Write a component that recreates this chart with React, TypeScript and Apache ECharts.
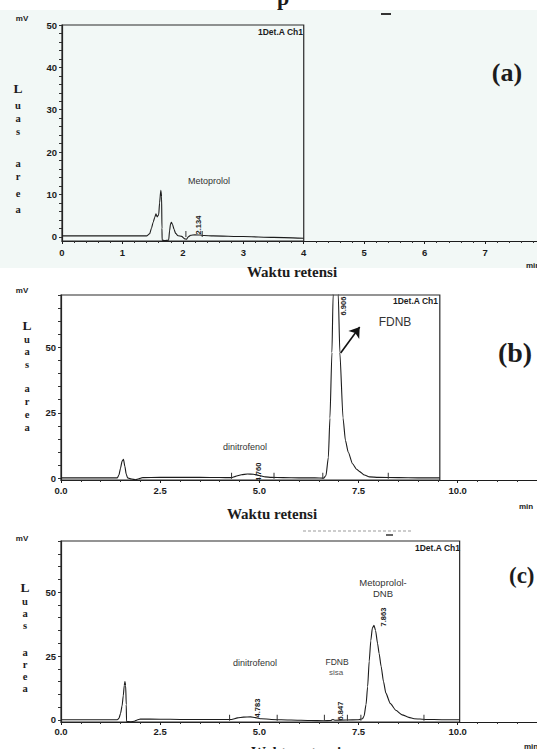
import React, { useEffect, useRef } from 'react';
import * as echarts from 'echarts';

// ---------- data (retention time [min], signal [mV]) ----------
const traceA: [number, number][] = [
  [0, 0.2], [0.5, 0.2], [1.0, 0.2], [1.4, 0.2], [1.45, 0.7], [1.48, 2.0], [1.51, 3.5], [1.535, 4.6],
  [1.555, 5.4], [1.575, 4.7], [1.6, 5.2], [1.615, 8.0], [1.635, 11.0], [1.648, 9.5], [1.654, 2.0],
  [1.657, -0.8], [1.7, -0.9], [1.765, -0.8], [1.78, 1.4], [1.795, 3.0], [1.81, 3.4], [1.83, 2.9],
  [1.855, 1.7], [1.88, 0.8], [1.92, 0.25], [1.98, 0.1], [2.03, -0.5], [2.06, -0.6], [2.09, 0.0],
  [2.13, 0.35], [2.2, 0.45], [2.28, 0.4], [2.35, 0.3], [2.5, 0.2], [3.0, 0.05], [3.5, -0.15], [4.0, -0.35],
];
const traceB: [number, number][] = [
  [0, 0.1], [0.5, 0.1], [1.0, 0.1], [1.42, 0.1], [1.46, 1.2], [1.5, 3.8], [1.54, 6.5], [1.575, 7.2],
  [1.61, 4.5], [1.645, 1.5], [1.68, 0.1], [1.78, -0.3], [1.88, -0.6], [1.96, -0.2], [2.05, 0.2],
  [2.5, 0.3], [3.0, 0.3], [3.5, 0.3], [4.0, 0.25], [4.3, 0.2], [4.4, 0.7], [4.55, 1.3], [4.7, 1.6],
  [4.85, 1.5], [5.0, 1.0], [5.15, 0.5], [5.3, 0.3], [5.6, 0.2], [6.0, 0.1], [6.4, 0.1], [6.62, 0.0],
  [6.68, 1.0], [6.74, 8.0], [6.78, 23], [6.83, 48], [6.86, 70], [6.92, 100], [6.99, 70], [7.03, 48],
  [7.11, 23], [7.17, 14.5], [7.24, 10], [7.35, 5.5], [7.45, 3.4], [7.53, 2.5], [7.65, 1.2], [7.78, 0.5],
  [8.0, 0.3], [8.5, 0.2], [9.0, 0.1], [9.55, 0.1],
];
const traceC: [number, number][] = [
  [0, 0.1], [0.5, 0.1], [1.0, 0.1], [1.42, 0.1], [1.46, 0.6], [1.5, 2.5], [1.54, 5.5], [1.57, 9.5],
  [1.595, 13.5], [1.612, 15.0], [1.63, 13.5], [1.645, 6.0], [1.652, -0.6], [1.75, -0.7], [1.85, -0.5],
  [1.92, 0.0], [2.0, 0.35], [2.5, 0.3], [3.0, 0.2], [3.5, 0.2], [4.0, 0.2], [4.3, 0.2], [4.45, 0.8],
  [4.6, 1.1], [4.78, 1.2], [4.9, 0.9], [5.05, 0.5], [5.3, 0.2], [5.8, 0.0], [6.3, -0.2], [6.62, -0.3],
  [6.8, -0.2], [6.85, 0.2], [6.9, -0.1], [7.2, 0.0], [7.5, 0.1], [7.6, 0.5], [7.64, 1.5], [7.69, 6],
  [7.73, 13], [7.77, 23], [7.81, 31], [7.85, 36], [7.89, 37], [7.93, 35], [7.98, 30], [8.02, 26],
  [8.07, 21], [8.13, 15], [8.19, 10.5], [8.3, 6.5], [8.44, 3.8], [8.6, 2.0], [8.77, 1.0], [8.9, 0.5],
  [9.2, 0.2], [9.6, 0.1], [10.05, 0.1],
];

const yTicksA = [0, 2, 4, 6, 8, 10, 12, 14, 16, 18, 20, 22, 24, 26, 28, 30, 32, 34, 36, 38, 40, 42, 44, 46, 48, 50];
const yLabelsA = [0, 10, 20, 30, 40, 50];
const yTicksBC = [0, 5, 10, 15, 20, 25, 30, 35, 40, 45, 50, 55, 60, 65, 70];
const yLabelsBC = [0, 25, 50];

const markersA = [2.05, 2.32];
const markersB = [4.3, 5.37, 6.6, 8.25];
const markersC = [4.25, 5.45, 6.64, 7.22, 7.56, 9.15];

const SANS = '"Liberation Sans", Arial, sans-serif';
const SERIF = '"Liberation Serif", "Times New Roman", serif';
const INK = '#1c1c1c';

function txt(x: number, y: number, text: string, opts: any = {}) {
  return {
    type: 'text',
    x,
    y,
    rotation: opts.rotation || 0,
    silent: true,
    style: {
      text,
      fill: opts.color || INK,
      font: `${opts.weight || 'normal'} ${opts.size || 9}px ${opts.family || SANS}`,
      align: opts.align || 'center',
      verticalAlign: 'middle',
    },
  };
}

function rt(x: number, y: number, text: string) {
  return txt(x, y, text, { rotation: Math.PI / 2, size: 7.5, weight: 'bold' });
}

function luasArea(x: number, ys: number[]) {
  const letters = ['L', 'u', 'a', 's', 'a', 'r', 'e', 'a'];
  return letters.map((ch, i) =>
    txt(x, ys[i], ch, { family: SERIF, weight: 'bold', size: i === 0 ? 13.5 : 10.5 })
  );
}

function xAxisBase(grid: number, max: number, interval: number, minorSplit: number, margin: number, fmt: (v: number) => string) {
  return {
    type: 'value',
    gridIndex: grid,
    min: 0,
    max,
    interval,
    axisLine: { show: true, onZero: false, lineStyle: { color: INK, width: 1.2 } },
    axisTick: { show: true, length: 3, lineStyle: { color: INK } },
    minorTick: { show: true, splitNumber: minorSplit, length: 2, lineStyle: { color: '#333' } },
    splitLine: { show: false },
    minorSplitLine: { show: false },
    axisLabel: {
      margin,
      color: INK,
      fontFamily: SANS,
      fontWeight: 'bold',
      fontSize: 9.5,
      formatter: fmt,
      showMaxLabel: false,
    },
  };
}

function yAxisBase(grid: number, min: number, max: number, ticks: number[], labels: number[]) {
  return {
    type: 'value',
    gridIndex: grid,
    min,
    max,
    axisLine: { show: true, onZero: false, lineStyle: { color: INK, width: 1.2 } },
    axisTick: { show: true, length: 3, customValues: ticks, lineStyle: { color: '#333' } },
    splitLine: { show: false },
    axisLabel: {
      margin: 5,
      color: INK,
      fontFamily: SANS,
      fontWeight: 'bold',
      fontSize: 9.5,
      customValues: labels,
    },
  };
}

function markers(xs: number[], y: number) {
  return {
    symbol: 'rect',
    symbolSize: [1, 6],
    symbolOffset: [0, -2],
    silent: true,
    label: { show: false },
    itemStyle: { color: '#333' },
    data: xs.map((x) => ({ coord: [x, y] })),
  };
}

function frame(x1: number, y1: number, y2: number) {
  return {
    silent: true,
    itemStyle: { color: 'rgba(0,0,0,0)', borderColor: '#2a2a2a', borderWidth: 1.2 },
    label: { show: false },
    data: [[{ coord: [0, y1] }, { coord: [x1, y2] }]],
  };
}

export default function App() {
  const ref = useRef<HTMLDivElement>(null);

  useEffect(() => {
    document.body.style.margin = '0';
    if (!ref.current) return;
    const chart = echarts.init(ref.current, undefined, { renderer: 'svg' });

    const intFmt = (v: number) => (Math.abs(v - Math.round(v)) < 1e-6 ? String(Math.round(v)) : '');
    const halfFmt = (v: number) => (Math.abs(v / 2.5 - Math.round(v / 2.5)) < 1e-6 ? v.toFixed(1) : '');

    const lineSeries = (data: [number, number][], idx: number, extra: any) => ({
      type: 'line',
      xAxisIndex: idx,
      yAxisIndex: idx,
      data,
      symbol: 'none',
      smooth: 0.2,
      smoothMonotone: 'x',
      clip: true,
      lineStyle: { color: INK, width: 1.1 },
      silent: true,
      ...extra,
    });

    const option: any = {
      animation: false,
      backgroundColor: '#ffffff',
      grid: [
        { left: 62, top: 25, width: 475, height: 216 },
        { left: 61, top: 295, width: 476, height: 185 },
        { left: 61, top: 541, width: 476, height: 181 },
      ],
      xAxis: [
        xAxisBase(0, 7.86, 1, 5, 6, intFmt),
        xAxisBase(1, 12, 2.5, 5, 5, halfFmt),
        xAxisBase(2, 12, 2.5, 5, 4, halfFmt),
      ],
      yAxis: [
        yAxisBase(0, -1, 50, yTicksA, yLabelsA),
        yAxisBase(1, -0.7, 70, yTicksBC, yLabelsBC),
        yAxisBase(2, -0.8, 70, yTicksBC, yLabelsBC),
      ],
      series: [
        lineSeries(traceA, 0, { markArea: frame(4, -1, 50), markPoint: markers(markersA, 0.2) }),
        lineSeries(traceB, 1, {
          markArea: frame(9.55, -0.7, 70),
          markPoint: markers(markersB, 0.2),
          markLine: {
            silent: true,
            symbol: ['none', 'arrow'],
            symbolSize: 10,
            label: { show: false },
            lineStyle: { color: '#111', width: 1.6, type: 'solid' },
            data: [[{ coord: [7.05, 47.8] }, { coord: [7.53, 57.8] }]],
          },
        }),
        lineSeries(traceC, 2, { markArea: frame(10.05, -0.8, 70), markPoint: markers(markersC, 0.1) }),
      ],
      graphic: [
        { type: 'rect', z: -10, silent: true, shape: { x: 0, y: 10, width: 537, height: 258 }, style: { fill: '#f2f8f6' } },
        // scan remnants
        txt(283, -3, 'p', { family: SERIF, weight: 'bold', size: 22 }),
        { type: 'line', silent: true, shape: { x1: 381, y1: 14, x2: 391, y2: 14 }, style: { stroke: '#333', lineWidth: 2 } },
        { type: 'line', silent: true, shape: { x1: 303, y1: 531, x2: 413, y2: 531 }, style: { stroke: '#bdbdbd', lineWidth: 1.5, lineDash: [3, 2] } },
        { type: 'line', silent: true, shape: { x1: 386, y1: 535, x2: 393, y2: 535 }, style: { stroke: '#333', lineWidth: 1.5 } },

        // panel (a)
        txt(22, 18, 'mV', { weight: 'bold', size: 8 }),
        ...luasArea(18, [88, 105, 118, 131, 163, 176, 193, 209]),
        txt(303, 32, '1Det.A Ch1', { weight: 'bold', size: 8.5, align: 'right' }),
        txt(209, 181, 'Metoprolol', { size: 9, color: '#333' }),
        rt(198, 225, '2.134'),
        txt(526, 265, 'min', { weight: 'bold', size: 8, align: 'left' }),
        txt(292, 272, 'Waktu retensi', { family: SERIF, weight: 'bold', size: 15 }),
        txt(507, 72, '(a)', { family: SERIF, weight: 'bold', size: 26 }),

        // panel (b)
        txt(22, 290, 'mV', { weight: 'bold', size: 8 }),
        ...luasArea(27, [325, 339, 351, 364, 388, 401, 414, 427]),
        txt(438, 301, '1Det.A Ch1', { weight: 'bold', size: 8.5, align: 'right' }),
        rt(343, 306, '6.906'),
        txt(395, 322, 'FDNB', { size: 12, color: '#333' }),
        txt(245, 447, 'dinitrofenol', { size: 9, color: '#333' }),
        rt(258, 472, '4.760'),
        txt(519, 506, 'min', { weight: 'bold', size: 8, align: 'left' }),
        txt(272, 514, 'Waktu retensi', { family: SERIF, weight: 'bold', size: 15 }),
        txt(515, 352, '(b)', { family: SERIF, weight: 'bold', size: 28 }),

        // panel (c)
        txt(22, 538, 'mV', { weight: 'bold', size: 8 }),
        ...luasArea(25, [587, 601, 613, 625, 652, 664, 676, 688]),
        txt(460, 548, '1Det.A Ch1', { weight: 'bold', size: 8.5, align: 'right' }),
        txt(383, 582, 'Metoprolol-', { size: 9.5, color: '#333' }),
        txt(383, 593, 'DNB', { size: 9.5, color: '#333' }),
        rt(383, 617, '7.863'),
        txt(255, 663, 'dinitrofenol', { size: 9, color: '#333' }),
        rt(257, 708, '4.783'),
        txt(337, 662, 'FDNB', { size: 8.5, color: '#333' }),
        txt(336, 672, 'sisa', { size: 8, color: '#555' }),
        rt(340, 711, '6.847'),
        txt(524, 746, 'min', { weight: 'bold', size: 8, align: 'left' }),
        txt(296, 752, 'Waktu retensi', { family: SERIF, weight: 'bold', size: 15 }),
        txt(509, 575, '(c)', { family: SERIF, weight: 'bold', size: 23, align: 'left' }),
      ],
    };

    chart.setOption(option);
    return () => chart.dispose();
  }, []);

  return <div ref={ref} style={{ width: 537, height: 749 }} />;
}
